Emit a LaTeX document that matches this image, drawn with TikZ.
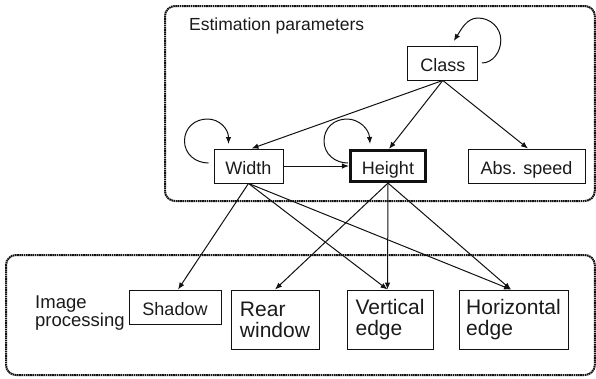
\documentclass[tikz,border=0pt]{standalone}
\usepackage{fontspec}
\setmainfont{Liberation Sans}
\usetikzlibrary{arrows.meta}
\definecolor{txt}{HTML}{1A1A1A}
\definecolor{ln}{HTML}{111111}
\begin{document}
\begin{tikzpicture}[x=1pt,y=-1pt,
  box/.style={draw=ln,line width=0.9pt,inner sep=0pt,minimum height=34pt,
    text height=16pt,text depth=0pt,font=\fontsize{18}{21}\selectfont,text=txt},
  tallbox/.style={draw=ln,line width=0.9pt,inner sep=0pt,minimum height=59pt,
    align=left,font=\fontsize{21}{21}\selectfont,text=txt},
  lbl/.style={inner sep=0pt,text=txt,font=\fontsize{18.5}{18.5}\selectfont,align=left},
  arr/.style={draw=ln,-{Latex[length=7pt,width=5.5pt]},line width=1pt},
  frame/.style={draw=ln,line width=2pt,dash pattern=on 1.6pt off 0.6pt,rounded corners=10pt}]
\useasboundingbox (0,0) rectangle (596,378);

% frames
\draw[frame] (165,6) rectangle (594.8,201);
\draw[frame] (6,255) rectangle (594.8,375);

% labels
\node[lbl,anchor=base west,font=\fontsize{17.5}{18}\selectfont] (est) at (189,30) {Estimation parameters};
\node[lbl,anchor=west] (img) at (35,313) {Image\\processing};

% estimation nodes
\node[box,minimum width=70pt] (class) at (442.8,63) {Class};
\node[box,minimum width=69pt] (width) at (248.5,166) {Width};
\node[box,minimum width=75.5pt,minimum height=31.5pt,line width=2.6pt] (height) at (388,166) {Height};
\node[box,minimum width=117pt] (abs) at (526.5,166) {Abs. speed};

% image processing nodes
\node[box,minimum width=92pt] (shadow) at (175,307) {Shadow};
\node[tallbox,minimum width=88pt] (rear) at (275,319.5) {Rear\\window};
\node[tallbox,minimum width=86pt] (vert) at (390,319.5) {Vertical\\edge};
\node[tallbox,minimum width=109pt] (horiz) at (513.5,319.5) {Horizontal\\edge};

% connectors
\draw[arr] (class.south) -- ([xshift=3pt]width.north);
\draw[arr] (class.south) -- ([xshift=1pt]height.north);
\draw[arr] (class.south) -- ([xshift=1.5pt]abs.north);
\draw[arr] (width.east) -- (height.west);
\draw[arr] (width.south) -- ([xshift=3pt]shadow.north);
\draw[arr] (width.south) -- ([xshift=-2.5pt]vert.north);
\draw[arr] (width.south) -- ([xshift=-2.5pt]horiz.north);
\draw[arr] (height.south) -- (rear.north);
\draw[arr] (height.south) -- ([xshift=-2.5pt]vert.north);
\draw[arr] (height.south) -- ([xshift=-2.5pt]horiz.north);

% self loops
\begin{scope}[shift={(width.center)}]
  \coordinate (wl) at (-40,-3);
  \draw[arr] (wl) .. controls (-53,-3) and (-64,-12) .. (-64,-25)
    .. controls (-64,-38) and (-54,-47) .. (-41,-47)
    .. controls (-29,-47) and (-20,-37) .. (-20,-22);
\end{scope}
\begin{scope}[shift={(height.center)}]
  \coordinate (hl) at (-40,-3);
  \draw[arr] (hl) .. controls (-53,-3) and (-64,-12) .. (-64,-25)
    .. controls (-64,-38) and (-54,-47) .. (-41,-47)
    .. controls (-29,-47) and (-19,-37) .. (-18,-22);
\end{scope}
\begin{scope}[shift={(class.center)}]
  \coordinate (cl) at (39,0);
  \draw[arr] (cl) .. controls (50,0) and (58,-11) .. (58,-23)
    .. controls (58,-35) and (48,-45) .. (35,-45)
    .. controls (24,-45) and (18,-33) .. (11,-22);
\end{scope}
\end{tikzpicture}
\end{document}
